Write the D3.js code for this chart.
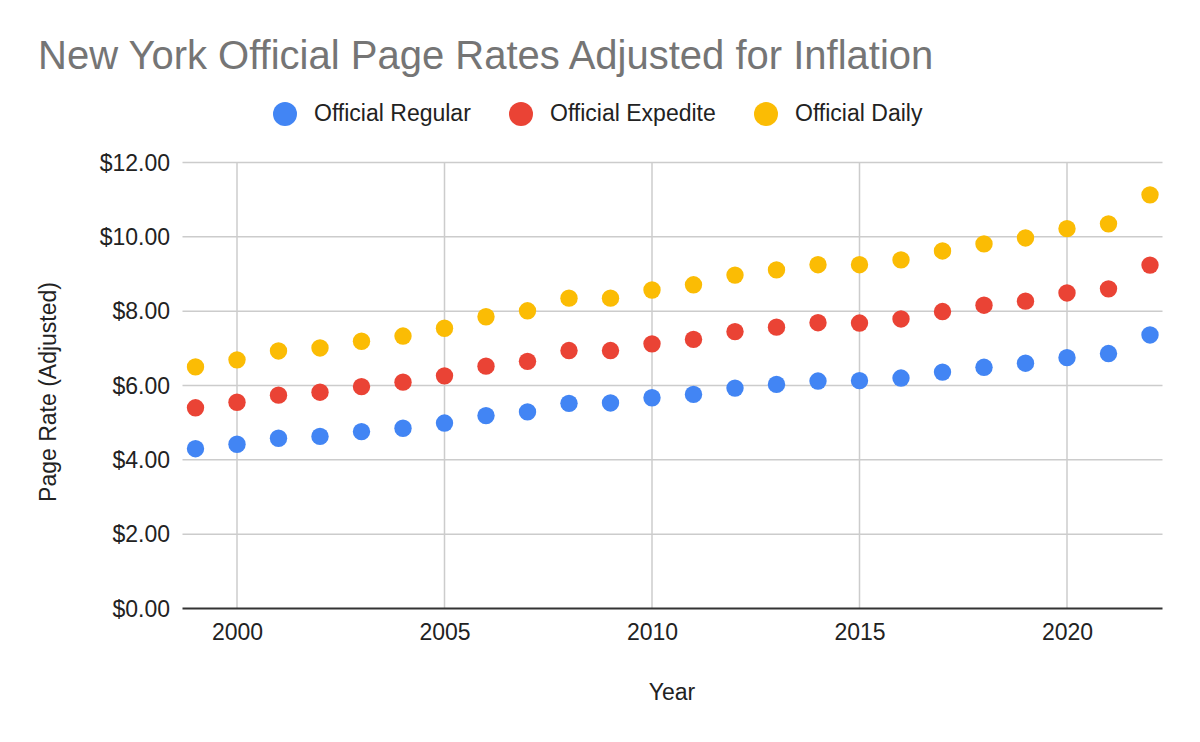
<!DOCTYPE html>
<html><head><meta charset="utf-8">
<script src="https://cdn.jsdelivr.net/npm/d3@7"></script>
<style>body{margin:0;background:#fff}svg{display:block}</style>
</head><body>
<svg id="c" width="1200" height="742"></svg>
<script>
const years = [1999,2000,2001,2002,2003,2004,2005,2006,2007,2008,2009,2010,2011,2012,2013,2014,2015,2016,2017,2018,2019,2020,2021,2022];
const regular = [4.30,4.42,4.58,4.63,4.76,4.85,4.99,5.19,5.29,5.52,5.53,5.67,5.76,5.93,6.03,6.12,6.13,6.20,6.36,6.49,6.60,6.75,6.86,7.36];
const expedite = [5.40,5.55,5.74,5.82,5.97,6.09,6.26,6.52,6.65,6.94,6.94,7.12,7.24,7.45,7.57,7.69,7.68,7.79,7.99,8.16,8.27,8.49,8.60,9.24];
const daily = [6.50,6.69,6.93,7.01,7.19,7.33,7.54,7.85,8.01,8.35,8.35,8.57,8.71,8.97,9.11,9.25,9.25,9.38,9.62,9.81,9.97,10.22,10.35,11.13];
const seriesNames = ["Official Regular","Official Expedite","Official Daily"];
const seriesColors = ["#4285F4","#EA4335","#FBBC04"];
const yTicks = [0,2,4,6,8,10,12];
const xTicks = [2000,2005,2010,2015,2020];

(function(){
const svg = d3.select("#c");
const font = "Arial, 'Liberation Sans', sans-serif";
const fs = 23;
const pl = 182.5, pr = 1162.5, pt = 162.5, pb = 608.5;

const x = d3.scaleLinear().domain([1999,2022]).range([195.5,1150]);
const y = d3.scaleLinear().domain([0,12]).range([pb, pt]);

const g = svg.append("g");
g.selectAll(".hg").data(yTicks.filter(d=>d>0)).join("line")
  .attr("x1",pl).attr("x2",pr).attr("y1",d=>y(d)).attr("y2",d=>y(d))
  .attr("stroke","#cccccc").attr("stroke-width",1.5);
g.selectAll(".vg").data(xTicks).join("line")
  .attr("x1",d=>x(d)).attr("x2",d=>x(d)).attr("y1",pt).attr("y2",pb)
  .attr("stroke","#cccccc").attr("stroke-width",1.5);

const yAxis = d3.axisLeft(y).tickValues(yTicks).tickSize(0).tickPadding(0)
  .tickFormat(d=>"$"+d3.format(".2f")(d));
const ya = svg.append("g").attr("transform",`translate(170,0)`).call(yAxis);
ya.select(".domain").remove();
ya.selectAll("text").attr("font-family",font).attr("font-size",fs).attr("fill","#222").attr("dy","0.34em");

const xAxis = d3.axisBottom(x).tickValues(xTicks).tickSize(0).tickPadding(0).tickFormat(d3.format("d"));
const xa = svg.append("g").attr("transform",`translate(0,${pb})`).call(xAxis);
xa.select(".domain").remove();
xa.selectAll("text").attr("font-family",font).attr("font-size",fs).attr("fill","#222").attr("y",31.5).attr("dy",0);

svg.append("line").attr("x1",pl).attr("x2",pr).attr("y1",y(0)).attr("y2",y(0))
  .attr("stroke","#333").attr("stroke-width",2);

const allSeries = [regular, expedite, daily];
allSeries.forEach((vals,i)=>{
  svg.append("g").selectAll("circle").data(vals).join("circle")
    .attr("cx",(d,j)=>x(years[j])).attr("cy",d=>y(d)).attr("r",8.7)
    .attr("fill",seriesColors[i]);
});

svg.append("text").attr("x",38).attr("y",69).text("New York Official Page Rates Adjusted for Inflation")
  .attr("font-family",font).attr("font-size",40).attr("fill","#757575");

const legX = [285,521,766];
seriesNames.forEach((n,i)=>{
  svg.append("circle").attr("cx",legX[i]).attr("cy",114).attr("r",12).attr("fill",seriesColors[i]);
  svg.append("text").attr("x",legX[i]+29).attr("y",120.5).text(n)
    .attr("font-family",font).attr("font-size",fs).attr("fill","#222");
});

svg.append("text").attr("x",672).attr("y",700).attr("text-anchor","middle").text("Year")
  .attr("font-family",font).attr("font-size",fs).attr("fill","#222");
svg.append("text").attr("transform","translate(56,392) rotate(-90)").attr("text-anchor","middle")
  .text("Page Rate (Adjusted)").attr("font-family",font).attr("font-size",fs).attr("fill","#222");
})();
</script>
</body></html>
